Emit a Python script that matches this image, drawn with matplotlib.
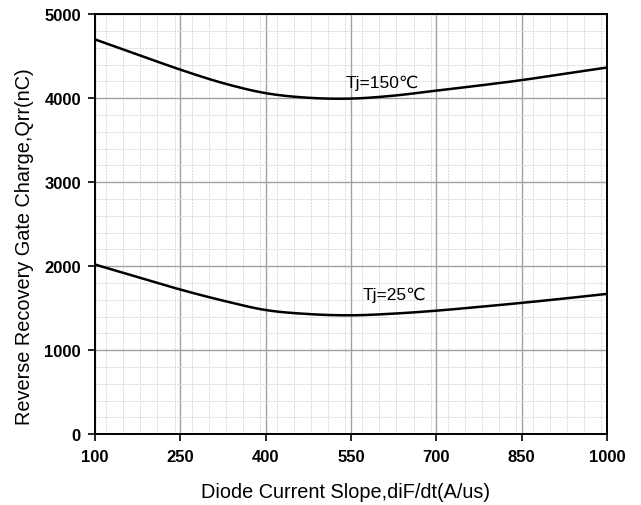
import matplotlib
matplotlib.use("Agg")
import matplotlib.pyplot as plt
import numpy as np
from matplotlib.ticker import MultipleLocator

# diF/dt read points (A/us)
didt = [100, 175, 250, 325, 400, 475, 550, 625, 700, 775, 850, 925, 1000]
# Qrr at Tj=150C (nC)
qrr_150 = [4700, 4520, 4340, 4180, 4060, 4005, 3995, 4030, 4090, 4150, 4215, 4290, 4365]
# Qrr at Tj=25C (nC)
qrr_25 = [2020, 1870, 1722, 1590, 1478, 1430, 1415, 1435, 1470, 1515, 1563, 1615, 1670]

x_ticks = [100, 250, 400, 550, 700, 850, 1000]
y_ticks = [0, 1000, 2000, 3000, 4000, 5000]

plt.rcParams['font.family'] = ['Liberation Sans', 'DejaVu Sans']

fig = plt.figure(figsize=(6.41, 5.06), dpi=100)
ax = fig.add_axes([0.148, 0.140, 0.799, 0.830])

# smooth curve through read points (cubic hermite)
def smooth(x, y, n=300):
    x = np.asarray(x, float)
    y = np.asarray(y, float)
    xs = np.linspace(x[0], x[-1], n)
    ys = np.empty_like(xs)
    m = np.gradient(y, x)
    for k, xv in enumerate(xs):
        i = min(np.searchsorted(x, xv, side='right') - 1, len(x) - 2)
        h = x[i + 1] - x[i]
        t = (xv - x[i]) / h
        h00 = 2 * t**3 - 3 * t**2 + 1
        h10 = t**3 - 2 * t**2 + t
        h01 = -2 * t**3 + 3 * t**2
        h11 = t**3 - t**2
        ys[k] = h00 * y[i] + h10 * h * m[i] + h01 * y[i + 1] + h11 * h * m[i + 1]
    return xs, ys

ax.plot(*smooth(didt, qrr_150), color='black', lw=1.8, zorder=3)
ax.plot(*smooth(didt, qrr_25), color='black', lw=1.8, zorder=3)

ax.text(605, 4190, "Tj=150℃", fontsize=12.5, ha='center', va='center')
ax.text(626, 1667, "Tj=25℃", fontsize=12.5, ha='center', va='center')

ax.set_xlim(100, 1000)
ax.set_ylim(0, 5000)
ax.set_xticks(x_ticks)
ax.set_yticks(y_ticks)
ax.xaxis.set_minor_locator(MultipleLocator(30))
ax.yaxis.set_minor_locator(MultipleLocator(200))

ax.grid(which='major', color='#a0a0a0', lw=1.0)
ax.grid(which='minor', color='#dadada', lw=0.7, ls=(0, (2, 1)))
ax.set_axisbelow(True)

for lbl in ax.get_xticklabels() + ax.get_yticklabels():
    lbl.set_fontweight('bold')
ax.tick_params(which='major', direction='out', length=5, width=1.2, labelsize=12)
ax.tick_params(axis='x', which='major', pad=6)
ax.tick_params(axis='y', which='major', pad=5)
ax.tick_params(which='minor', length=0)
for s in ax.spines.values():
    s.set_linewidth(1.4)

ax.set_xlabel("Diode Current Slope,diF/dt(A/us)", fontsize=14.3)
ax.set_ylabel("Reverse Recovery Gate Charge,Qrr(nC)", fontsize=14.3)
ax.xaxis.set_label_coords(0.49, -0.115)
ax.yaxis.set_label_coords(-0.118, 0.449)

fig.savefig("out.png", dpi=100)
